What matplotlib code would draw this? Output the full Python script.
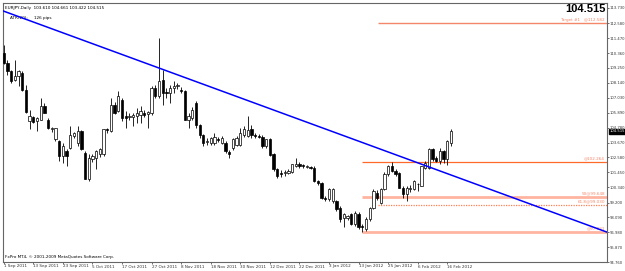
import matplotlib
matplotlib.use("Agg")
import matplotlib.pyplot as plt
import numpy as np

# EURJPY daily bars, 1 Sep 2011 .. 17 Feb 2012 (bar index 0 = 1 Sep 2011)
opens = [
    110.36, 109.62, 109.00, 108.38, 108.62, 108.87, 107.63, 105.28, 105.60, 105.28,
    105.40, 106.44, 105.40, 104.66, 103.91, 103.79, 102.67, 103.04, 103.29, 104.16,
    103.66, 104.53, 102.92, 100.94, 102.42, 102.55, 102.80, 102.80, 104.66, 104.53,
    106.52, 106.02, 106.89, 105.65, 105.62, 105.60, 105.65, 105.77, 105.90, 105.83,
    105.90, 107.76, 107.14, 108.37, 107.45, 107.38, 107.75, 107.87, 107.58, 107.50,
    105.39, 105.52, 106.63, 105.02, 104.28, 103.72, 103.66, 103.66, 103.95, 103.66,
    103.66, 102.95, 103.29, 103.53, 103.53, 104.28, 104.15, 104.70, 104.25, 104.20,
    104.12, 103.41, 103.91, 102.79, 101.67, 101.43, 101.38, 101.43, 101.48, 101.92,
    102.05, 101.99, 101.87, 101.85, 101.80, 100.80, 100.68, 99.57, 99.44, 99.32,
    99.32, 98.82, 98.08, 98.08, 98.33, 97.58, 98.33, 97.46, 97.21, 97.96,
    98.82, 99.94, 99.20, 100.19, 101.30, 101.92, 101.55, 101.43, 100.31, 99.82,
    100.19, 100.19, 100.56, 100.44, 101.80, 101.80, 103.21, 102.54, 102.30, 103.04,
    102.42, 103.610]
highs = [
    110.98, 109.86, 109.12, 109.86, 109.12, 109.00, 108.00, 106.14, 105.65, 105.60,
    107.01, 106.60, 105.52, 104.85, 104.78, 103.85, 103.66, 103.20, 104.90, 104.50,
    104.90, 104.60, 103.04, 102.80, 102.80, 103.10, 103.30, 104.70, 104.80, 107.01,
    106.70, 107.51, 107.00, 106.02, 105.90, 105.85, 106.27, 106.39, 106.10, 106.05,
    107.90, 108.00, 111.47, 109.11, 107.75, 108.00, 108.25, 108.10, 107.80, 107.60,
    105.89, 106.30, 106.75, 105.10, 104.35, 104.03, 104.10, 104.40, 104.10, 104.20,
    103.80, 103.10, 104.00, 104.20, 104.77, 104.90, 105.69, 105.02, 104.40, 104.30,
    104.25, 103.95, 104.00, 102.90, 101.80, 101.60, 101.60, 101.70, 102.10, 102.54,
    102.20, 102.10, 102.00, 101.95, 101.90, 100.90, 100.75, 99.70, 100.30, 100.25,
    99.40, 98.95, 98.45, 98.30, 98.45, 98.60, 98.50, 97.60, 98.10, 98.90,
    100.19, 100.10, 100.30, 101.50, 102.00, 102.22, 101.70, 101.50, 100.40, 100.40,
    100.50, 100.90, 100.68, 101.95, 102.30, 103.30, 103.30, 102.70, 103.29, 103.15,
    103.90, 104.661]
lows = [
    109.55, 108.75, 108.13, 108.25, 107.88, 107.51, 105.90, 104.66, 105.15, 104.53,
    105.35, 105.85, 104.66, 104.50, 103.79, 102.30, 102.18, 101.93, 103.17, 104.00,
    103.42, 103.10, 100.94, 100.81, 102.20, 101.68, 102.60, 102.70, 104.40, 104.45,
    105.80, 105.95, 105.28, 104.78, 105.40, 104.90, 105.15, 105.15, 105.60, 104.78,
    105.77, 107.00, 107.01, 106.51, 107.00, 106.63, 107.38, 107.70, 107.40, 105.35,
    104.77, 105.40, 104.77, 104.03, 103.41, 103.53, 103.50, 103.53, 103.70, 103.55,
    102.91, 102.54, 103.16, 103.40, 103.41, 104.10, 104.10, 104.03, 104.00, 104.00,
    103.30, 103.30, 102.65, 101.55, 101.05, 101.10, 101.20, 101.30, 101.40, 101.85,
    101.80, 101.80, 101.75, 101.70, 100.70, 100.50, 99.45, 99.30, 99.35, 99.20,
    98.60, 97.71, 97.34, 97.90, 97.50, 97.46, 97.20, 97.03, 97.10, 97.85,
    98.70, 99.40, 99.10, 100.10, 101.20, 101.50, 101.20, 100.25, 99.57, 99.32,
    100.00, 100.10, 100.06, 100.40, 101.70, 101.70, 102.30, 102.20, 102.05, 102.17,
    102.00, 103.422]
closes = [
    109.62, 109.00, 108.25, 108.62, 109.00, 107.58, 105.95, 105.65, 105.23, 105.52,
    106.39, 105.90, 104.78, 104.78, 104.78, 102.67, 103.42, 102.67, 104.28, 104.41,
    104.53, 103.17, 100.99, 102.55, 102.67, 103.04, 103.17, 104.66, 104.60, 106.52,
    105.90, 107.14, 105.52, 105.52, 105.68, 105.77, 105.90, 106.02, 105.77, 105.95,
    107.76, 107.14, 108.30, 107.38, 107.38, 107.75, 107.87, 108.00, 107.50, 105.39,
    105.64, 106.14, 105.02, 104.28, 103.66, 103.78, 104.03, 104.10, 103.88, 104.03,
    103.04, 102.86, 103.91, 104.03, 104.40, 104.70, 104.65, 104.28, 104.18, 104.12,
    103.41, 103.91, 102.72, 101.67, 101.18, 101.30, 101.48, 101.55, 102.05, 102.05,
    101.92, 101.95, 101.90, 101.80, 100.80, 100.63, 99.57, 99.44, 100.18, 100.18,
    98.70, 97.96, 98.33, 98.20, 97.58, 98.45, 97.34, 97.34, 97.96, 98.82,
    100.06, 99.57, 100.19, 101.30, 101.92, 101.55, 101.30, 100.31, 99.82, 100.31,
    100.31, 100.81, 100.60, 101.92, 102.17, 103.21, 102.42, 102.30, 103.04, 102.42,
    103.78, 104.515]

date_labels = ["1 Sep 2011", "13 Sep 2011", "23 Sep 2011", "5 Oct 2011",
               "17 Oct 2011", "27 Oct 2011", "8 Nov 2011", "18 Nov 2011",
               "30 Nov 2011", "12 Dec 2011", "22 Dec 2011", "3 Jan 2012",
               "13 Jan 2012", "25 Jan 2012", "6 Feb 2012", "16 Feb 2012"]
price_ticks = [113.730, 112.580, 111.470, 110.360, 109.250, 108.140, 107.030,
               105.890, 104.780, 103.670, 102.580, 101.450, 100.340, 99.200,
               98.090, 96.980, 95.870, 94.760]

# trendline anchors (bar, price)
trend_x = [-0.2, 163.2]
trend_y = [113.51, 96.99]

# fib levels drawn from the Jan low
fib_hi, fib_lo = 102.264, 97.031
fib_50 = 99.648
fib_618 = 99.030
target1 = 112.61
last_price = 104.515

FS = 3.0
YFS = 2.7
plt.rcParams["font.family"] = ["DejaVu Sans"]

fig = plt.figure(figsize=(6.25, 2.71), dpi=100)
fig.patch.set_facecolor("white")
ax = fig.add_axes([3/625, 9/271, 604/625, 259/271])
ax.set_facecolor("white")

n = len(closes)
x = np.arange(n)
o = np.array(opens); h = np.array(highs); l = np.array(lows); c = np.array(closes)

# candles
ax.vlines(x, l, h, color="black", lw=0.6, zorder=3)
up = c >= o
bw = 0.62
ax.bar(x[up], (c - o)[up], bottom=o[up], width=bw, color="white",
       edgecolor="black", lw=0.5, zorder=4)
ax.bar(x[~up], (o - c)[~up], bottom=c[~up], width=bw, color="black",
       edgecolor="black", lw=0.5, zorder=4)

# trendline
ax.plot(trend_x, trend_y, color="#0000FF", lw=1.1, zorder=5)

xr = 163.2
lab_x = 162.6
lab_c = "#F4876A"
# levels
ax.hlines(target1, 101.3, xr, color="#F4876A", lw=1.0, zorder=2)
ax.text(lab_x, target1 + 0.08, "Target #1   @112.582", fontsize=FS,
        color=lab_c, ha="right", va="bottom")
ax.hlines(fib_hi, 97, xr, color="#FF6A2A", lw=0.9, zorder=2)
ax.text(lab_x, fib_hi + 0.08, "@102.264", fontsize=FS, color=lab_c,
        ha="right", va="bottom")
ax.hlines(fib_50, 97, xr, color="#FFB4A0", lw=2.0, zorder=2)
ax.text(lab_x, fib_50 + 0.12, "50@99.648", fontsize=FS, color=lab_c,
        ha="right", va="bottom")
ax.hlines(fib_618, 101.3, xr, color="#FF7F50", lw=0.9, ls=(0, (1, 1)), zorder=2)
ax.text(lab_x, fib_618 + 0.08, "61.8@99.030", fontsize=FS, color=lab_c,
        ha="right", va="bottom")
ax.hlines(fib_lo, 97, xr, color="#FFB4A0", lw=2.0, zorder=2)
ax.text(lab_x, fib_lo + 0.12, "@97.031", fontsize=FS, color=lab_c,
        ha="right", va="bottom")

ax.set_xlim(-0.2, xr)
ax.set_ylim(94.76, 114.10)

ax.set_xticks(np.arange(len(date_labels)) * 8)
ax.set_xticklabels(date_labels, fontsize=FS, ha="left")
ax.tick_params(axis="x", direction="out", length=1.5, width=0.5, pad=0.3,
               colors="#333333")
ax.yaxis.tick_right()
ax.set_yticks(price_ticks)
ax.set_yticklabels([f"{v:.3f}" for v in price_ticks], fontsize=YFS)
ax.tick_params(axis="y", direction="out", length=1.5, width=0.5, pad=0.6,
               colors="#333333")
for s in ax.spines.values():
    s.set_color("#666666"); s.set_linewidth(0.8)

# current price box on the right scale
ax.text(1.0035, (last_price - 94.76) / (114.10 - 94.76), f"{last_price:.3f}",
        transform=ax.transAxes, fontsize=YFS, color="white", va="center",
        ha="left", bbox=dict(boxstyle="square,pad=0.1", fc="black", ec="black"))

# header texts
ax.text(0.004, 0.988, "EURJPY,Daily  103.610 104.661 103.422 104.515",
        transform=ax.transAxes, fontsize=FS, va="top", ha="left")
ax.text(0.012, 0.948, "ATR(20):     126 pips", transform=ax.transAxes,
        fontsize=FS, va="top", ha="left")
ax.text(0.997, 0.997, "104.515", transform=ax.transAxes, fontsize=8,
        fontweight="bold", family=["Liberation Sans", "DejaVu Sans"],
        va="top", ha="right")
ax.text(0.004, 0.012, "FxPro MT4, \u00a9 2001-2009 MetaQuotes Software Corp.",
        transform=ax.transAxes, fontsize=FS, va="bottom", ha="left")

fig.savefig("out.png", dpi=100, facecolor="white")
